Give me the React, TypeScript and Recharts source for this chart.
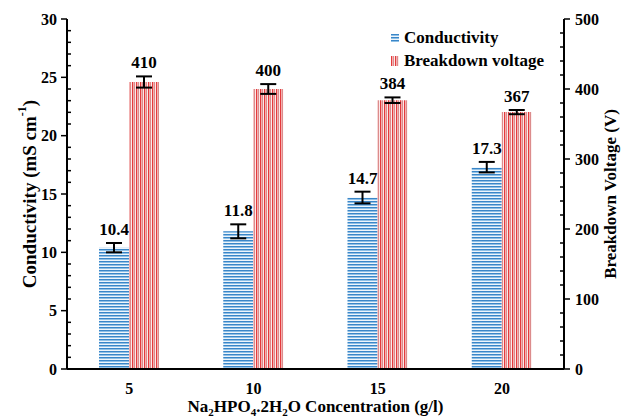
import { BarChart, Bar, XAxis, YAxis, ErrorBar, LabelList, Label } from "recharts";

const concentrations = ["5", "10", "15", "20"];
const conductivity = [10.4, 11.8, 14.7, 17.3];
const conductivityErr = [0.4, 0.6, 0.5, 0.45];
const voltage = [410, 400, 384, 367];
const voltageErr = [8, 7, 4, 3];

const conductivityTicks = [0, 5, 10, 15, 20, 25, 30];
const voltageTicks = [0, 100, 200, 300, 400, 500];
// minor ticks: every 1 mS/cm on the left, every 20 V on the right
const conductivityMinor = Array.from({ length: 31 }, (_, i) => i);
const voltageMinor = Array.from({ length: 26 }, (_, i) => i * 20);

const data = concentrations.map((c, i) => ({
  name: c,
  conductivity: conductivity[i],
  condErr: conductivityErr[i],
  voltage: voltage[i],
  voltErr: voltageErr[i],
}));

const FONT = "Liberation Serif, DejaVu Serif, serif";
const TICK_SIZE = 6;
const TICK_MARGIN = 8;

function LeftTick(props: any) {
  const { x, y, payload } = props;
  const ax = x + TICK_SIZE + TICK_MARGIN;
  const major = conductivityTicks.includes(payload.value);
  return (
    <g>
      {major ? (
        <line x1={ax - 6} x2={ax} y1={y} y2={y} stroke="#000" strokeWidth={1.5} />
      ) : (
        <line x1={ax} x2={ax + 4} y1={y} y2={y} stroke="#000" strokeWidth={1.5} />
      )}
      {major && (
        <text x={ax - 10} y={y} dy="0.35em" textAnchor="end" style={{ fontFamily: FONT }} fontWeight="bold" fontSize={16} fill="#000">
          {payload.value}
        </text>
      )}
    </g>
  );
}

function RightTick(props: any) {
  const { x, y, payload } = props;
  const ax = x - TICK_SIZE - TICK_MARGIN;
  const major = voltageTicks.includes(payload.value);
  return (
    <g>
      {major ? (
        <line x1={ax} x2={ax + 6} y1={y} y2={y} stroke="#000" strokeWidth={1.5} />
      ) : (
        <line x1={ax - 4} x2={ax} y1={y} y2={y} stroke="#000" strokeWidth={1.5} />
      )}
      {major && (
        <text x={ax + 11} y={y} dy="0.35em" textAnchor="start" style={{ fontFamily: FONT }} fontWeight="bold" fontSize={16} fill="#000">
          {payload.value}
        </text>
      )}
    </g>
  );
}

function valueLabel(errs: number[], fmt: (v: number) => string) {
  return (p: any) => {
    const { x, y, width, height, value, index } = p;
    const errPx = (errs[index] * height) / value;
    return (
      <text x={x + width / 2} y={y - errPx - 8} textAnchor="middle" style={{ fontFamily: FONT }} fontWeight="bold" fontSize={17} fill="#000">
        {fmt(value)}
      </text>
    );
  };
}

function LeftTitle(p: any) {
  const cx = 29;
  const cy = p.viewBox.y + p.viewBox.height / 2;
  return (
    <text x={cx} y={cy} transform={`rotate(-90, ${cx}, ${cy})`} textAnchor="middle" dominantBaseline="central" style={{ fontFamily: FONT }} fontWeight="bold" fontSize={19} fill="#000">
      Conductivity (mS cm<tspan dy={-7} fontSize={12}>-1</tspan><tspan dy={7}>)</tspan>
    </text>
  );
}

function RightTitle(p: any) {
  const cx = 610;
  const cy = p.viewBox.y + p.viewBox.height / 2;
  return (
    <text x={cx} y={cy} transform={`rotate(-90, ${cx}, ${cy})`} textAnchor="middle" dominantBaseline="central" style={{ fontFamily: FONT }} fontWeight="bold" fontSize={17} fill="#000">
      Breakdown Voltage (V)
    </text>
  );
}

function BottomTitle(p: any) {
  const cx = p.viewBox.x + p.viewBox.width / 2;
  const y = 412;
  return (
    <text x={cx} y={y} textAnchor="middle" style={{ fontFamily: FONT }} fontWeight="bold" fontSize={17} fill="#000">
      Na<tspan dy={4} fontSize={11}>2</tspan>
      <tspan dy={-4}>HPO</tspan>
      <tspan dy={4} fontSize={11}>4</tspan>
      <tspan dy={-4}>.2H</tspan>
      <tspan dy={4} fontSize={11}>2</tspan>
      <tspan dy={-4}>O Concentration (g/l)</tspan>
    </text>
  );
}

function LegendBox() {
  const row = { display: "flex", alignItems: "center", height: 23 } as const;
  return (
    <div style={{ position: "absolute", left: 391, top: 26, fontFamily: FONT, fontWeight: "bold", fontSize: 17, color: "#000" }}>
      <div style={row}>
        <svg width={10} height={8} style={{ marginRight: 3 }}>
          <rect width={8} height={8} fill="url(#condStripes)" />
        </svg>
        Conductivity
      </div>
      <div style={row}>
        <svg width={10} height={10} style={{ marginRight: 3 }}>
          <rect width={8} height={10} fill="url(#voltStripes)" />
        </svg>
        Breakdown voltage
      </div>
    </div>
  );
}

export default function App() {
  return (
    <div style={{ position: "absolute", left: 0, top: 0, width: 628, height: 419, background: "#fff" }}>
      <svg width={0} height={0} style={{ position: "absolute" }}>
        <defs>
          <pattern id="condStripes" patternUnits="userSpaceOnUse" width={4} height={3}>
            <rect width={4} height={3} fill="#eef5fb" />
            <rect y={0} width={4} height={1} fill="#3a86c8" />
            <rect y={1} width={4} height={1} fill="#8fc0e6" />
          </pattern>
          <pattern id="voltStripes" patternUnits="userSpaceOnUse" width={4} height={4}>
            <rect width={4} height={4} fill="#fbe9e9" />
            <rect x={0} width={1} height={4} fill="#e53a3c" />
            <rect x={1} width={1} height={4} fill="#f2b0b0" />
            <rect x={2} width={1} height={4} fill="#dc8c8c" />
          </pattern>
        </defs>
      </svg>
      <BarChart
        width={628}
        height={419}
        data={data}
        margin={{ top: 19, right: 10, left: 10, bottom: 20 }}
        barGap={0}
        barCategoryGap="25%"
        style={{ fontFamily: FONT }}
      >
        <XAxis
          dataKey="name"
          axisLine={{ stroke: "#000", strokeWidth: 2 }}
          tickLine={false}
          tickMargin={8}
          height={30}
          tick={{ fill: "#000", fontFamily: FONT, fontWeight: "bold", fontSize: 16 }}
        >
          <Label content={BottomTitle} />
        </XAxis>
        <XAxis xAxisId="top" dataKey="name" orientation="top" height={0} tick={false} tickLine={false} axisLine={{ stroke: "#000", strokeWidth: 2 }} />
        <YAxis
          yAxisId="left"
          width={57}
          domain={[0, 30]}
          ticks={conductivityMinor}
          interval={0}
          tickSize={TICK_SIZE}
          tickMargin={TICK_MARGIN}
          tickLine={false}
          tick={LeftTick}
          axisLine={{ stroke: "#000", strokeWidth: 2 }}
        >
          <Label content={LeftTitle} />
        </YAxis>
        <YAxis
          yAxisId="right"
          orientation="right"
          width={54}
          domain={[0, 500]}
          ticks={voltageMinor}
          interval={0}
          tickSize={TICK_SIZE}
          tickMargin={TICK_MARGIN}
          tickLine={false}
          tick={RightTick}
          axisLine={{ stroke: "#000", strokeWidth: 2 }}
        >
          <Label content={RightTitle} />
        </YAxis>
        <Bar yAxisId="left" dataKey="conductivity" barSize={30} fill="url(#condStripes)" isAnimationActive={false}>
          <ErrorBar dataKey="condErr" width={8} strokeWidth={2} stroke="#000" direction="y" />
          <LabelList dataKey="conductivity" content={valueLabel(conductivityErr, (v) => v.toFixed(1))} />
        </Bar>
        <Bar yAxisId="right" dataKey="voltage" barSize={30} fill="url(#voltStripes)" isAnimationActive={false}>
          <ErrorBar dataKey="voltErr" width={8} strokeWidth={2} stroke="#000" direction="y" />
          <LabelList dataKey="voltage" content={valueLabel(voltageErr, (v) => String(v))} />
        </Bar>
      </BarChart>
      <LegendBox />
    </div>
  );
}
